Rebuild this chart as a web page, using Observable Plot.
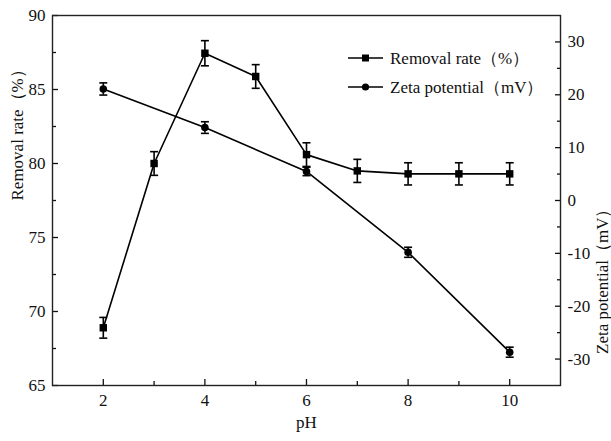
<!DOCTYPE html>
<html><head><meta charset="utf-8">
<script src="https://cdn.jsdelivr.net/npm/d3@7"></script>
<script src="https://cdn.jsdelivr.net/npm/@observablehq/plot@0.6"></script>
<style>
body{margin:0;background:#fff;}
#wrap{position:relative;width:611px;height:441px;font-family:"Liberation Serif","Times New Roman",serif;}
#legend{position:absolute;left:0;top:0;pointer-events:none;}
</style></head><body><div id="wrap"></div>
<script>
const pH = [2, 3, 4, 5, 6, 7, 8, 9, 10];
const removalRate = [68.9, 80.0, 87.45, 85.88, 80.6, 79.5, 79.3, 79.3, 79.3];
const removalErr = [0.7, 0.8, 0.85, 0.8, 0.8, 0.78, 0.75, 0.75, 0.75];
const zetaPH = [2, 4, 6, 8, 10];
const zeta = [21.1, 13.8, 5.5, -9.8, -28.7];
const zetaErr = [1.15, 1.1, 0.8, 0.95, 0.95];
const xTicks = [2, 4, 6, 8, 10];
const xMinor = [3, 5, 7, 9];
const leftTicks = [65, 70, 75, 80, 85, 90];
const leftMinor = [67.5, 72.5, 77.5, 82.5, 87.5];
const rightTicks = [-30, -20, -10, 0, 10, 20, 30];
const rightMinor = [-25, -15, -5, 5, 15, 25];
const labelLeft = "Removal rate（%）";
const labelRight = "Zeta potential（mV）";
const labelX = "pH";

// right-axis (zeta) domain mapped onto the left scale
const L0 = 65, L1 = 90, R0 = -35, R1 = 35;
const toLeft = v => L0 + (v - R0) * (L1 - L0) / (R1 - R0);
const fromLeft = d => R0 + (d - L0) * (R1 - R0) / (L1 - L0);

const removal = pH.map((x, i) => ({x, y: removalRate[i], e: removalErr[i]}));
const zetaRows = zetaPH.map((x, i) => ({x, y: toLeft(zeta[i]), lo: toLeft(zeta[i] - zetaErr[i]), hi: toLeft(zeta[i] + zetaErr[i])}));

const cap = {draw(ctx, size) { const r = Math.sqrt(size / Math.PI); ctx.moveTo(-r, 0); ctx.lineTo(r, 0); }};
const sw = 1.6;
const FS = 17;

const chart = Plot.plot({
  width: 611, height: 441,
  marginLeft: 52, marginRight: 51, marginTop: 15, marginBottom: 56,
  style: {fontFamily: '"Liberation Serif","Times New Roman",serif', fontSize: FS + "px", color: "#111", background: "#fff"},
  x: {domain: [1, 11], axis: null},
  y: {domain: [L0, L1], axis: null},
  marks: [
    // ticks (inward)
    Plot.axisX(xTicks, {anchor: "bottom", tickSize: 6, dy: -6, fill: "none", label: null, strokeWidth: 1.3}),
    Plot.axisX(xMinor, {anchor: "bottom", tickSize: 4, dy: -4, fill: "none", label: null, strokeWidth: 1.3}),
    Plot.axisY(leftTicks, {anchor: "left", tickSize: 6, dx: 6, fill: "none", label: null, strokeWidth: 1.3}),
    Plot.axisY(leftMinor, {anchor: "left", tickSize: 4, dx: 4, fill: "none", label: null, strokeWidth: 1.3}),
    Plot.axisY(rightTicks.map(toLeft), {anchor: "right", tickSize: 6, dx: -6, fill: "none", label: null, strokeWidth: 1.3}),
    Plot.axisY(rightMinor.map(toLeft), {anchor: "right", tickSize: 4, dx: -4, fill: "none", label: null, strokeWidth: 1.3}),
    // tick labels
    Plot.axisX(xTicks, {anchor: "bottom", tickSize: 0, tickPadding: 8, label: null, fontSize: FS, tickFormat: d => String(d)}),
    Plot.axisY(leftTicks, {anchor: "left", tickSize: 0, tickPadding: 7, label: null, fontSize: FS, tickFormat: d => String(d)}),
    Plot.axisY(rightTicks.map(toLeft), {anchor: "right", tickSize: 0, tickPadding: 7, label: null, fontSize: FS, tickFormat: d => String(Math.round(fromLeft(d)))}),
    // axis titles
    Plot.text([labelX], {frameAnchor: "bottom", dy: 42, text: d => d, fontSize: FS}),
    Plot.text([labelLeft], {frameAnchor: "left", dx: -35, rotate: -90, text: d => d, fontSize: FS}),
    Plot.text([labelRight], {frameAnchor: "right", dx: 42, rotate: -90, text: d => d, fontSize: FS}),
    Plot.frame({stroke: "#222", strokeWidth: 1.4}),
    // removal rate
    Plot.line(removal, {x: "x", y: "y", stroke: "black", strokeWidth: sw}),
    Plot.ruleX(removal, {x: "x", y1: d => d.y - d.e, y2: d => d.y + d.e, stroke: "black", strokeWidth: sw}),
    Plot.dot(removal, {x: "x", y: d => d.y + d.e, symbol: cap, r: 4, stroke: "black", fill: "none", strokeWidth: sw}),
    Plot.dot(removal, {x: "x", y: d => d.y - d.e, symbol: cap, r: 4, stroke: "black", fill: "none", strokeWidth: sw}),
    Plot.dot(removal, {x: "x", y: "y", symbol: "square", r: 4.2, fill: "black", stroke: "none"}),
    // zeta potential
    Plot.line(zetaRows, {x: "x", y: "y", stroke: "black", strokeWidth: sw}),
    Plot.ruleX(zetaRows, {x: "x", y1: "lo", y2: "hi", stroke: "black", strokeWidth: sw}),
    Plot.dot(zetaRows, {x: "x", y: "hi", symbol: cap, r: 4, stroke: "black", fill: "none", strokeWidth: sw}),
    Plot.dot(zetaRows, {x: "x", y: "lo", symbol: cap, r: 4, stroke: "black", fill: "none", strokeWidth: sw}),
    Plot.dot(zetaRows, {x: "x", y: "y", symbol: "circle", r: 3.8, fill: "black", stroke: "none"})
  ]
});
const wrap = document.getElementById("wrap");
wrap.appendChild(chart);

// legend overlay
const lg = d3.select(wrap).append("svg").attr("id", "legend").attr("width", 611).attr("height", 441)
  .style("font-family", '"Liberation Serif","Times New Roman",serif').style("font-size", FS + "px");
const items = [{label: labelLeft, sym: "square", y: 58}, {label: labelRight, sym: "circle", y: 87}];
for (const it of items) {
  const g = lg.append("g");
  g.append("line").attr("x1", 348).attr("x2", 383).attr("y1", it.y).attr("y2", it.y).attr("stroke", "black").attr("stroke-width", 1.5);
  if (it.sym === "square") g.append("rect").attr("x", 362).attr("y", it.y - 3.5).attr("width", 7).attr("height", 7).attr("fill", "black");
  else g.append("circle").attr("cx", 365.5).attr("cy", it.y).attr("r", 3.6).attr("fill", "black");
  g.append("text").attr("x", 390).attr("y", it.y).attr("dy", "0.35em").attr("fill", "#111").text(it.label);
}
</script>
</body></html>
